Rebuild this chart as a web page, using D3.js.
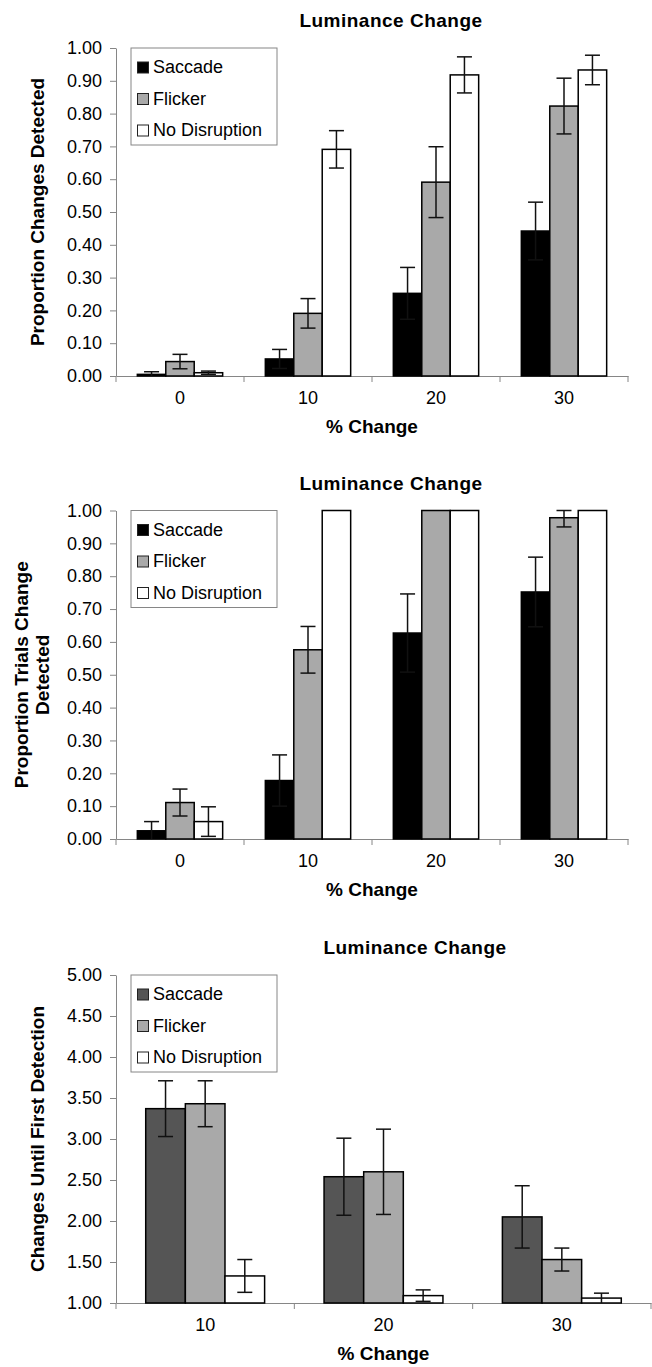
<!DOCTYPE html>
<html>
<head>
<meta charset="utf-8">
<script src="https://cdn.jsdelivr.net/npm/d3@7"></script>
<style>
    body {
        margin: 0;
        background: #fff;
        font-family: "Liberation Sans", Arial, sans-serif;
    }
    svg { display: block; }
    .axis path, .axis line { stroke: #868686; }
    .axis text { font-size: 18px; fill: #000; font-family: "Liberation Sans", Arial, sans-serif; }
</style>
</head>
<body>
<svg id="fig" width="652" height="1367"></svg>
<script>
    const seriesNames = ["Saccade", "Flicker", "No Disruption"];

    // top panel: proportion of changes detected
    const changeCats = ["0", "10", "20", "30"];
    const changesSaccade = [0.005, 0.052, 0.252, 0.442];
    const changesSaccadeErr = [0.008, 0.029, 0.079, 0.088];
    const changesFlicker = [0.044, 0.191, 0.591, 0.823];
    const changesFlickerErr = [0.022, 0.045, 0.108, 0.085];
    const changesNone = [0.010, 0.691, 0.918, 0.933];
    const changesNoneErr = [0.005, 0.057, 0.055, 0.045];

    // middle panel: proportion of trials with a detected change
    const trialsSaccade = [0.025, 0.178, 0.627, 0.752];
    const trialsSaccadeErr = [0.028, 0.078, 0.119, 0.106];
    const trialsFlicker = [0.111, 0.576, 1.00, 0.978];
    const trialsFlickerErr = [0.041, 0.071, 0, 0.028];
    const trialsNone = [0.053, 1.00, 1.00, 1.00];
    const trialsNoneErr = [0.045, 0, 0, 0];

    // bottom panel: changes until first detection
    const firstCats = ["10", "20", "30"];
    const firstSaccade = [3.37, 2.54, 2.05];
    const firstSaccadeErr = [0.34, 0.47, 0.38];
    const firstFlicker = [3.43, 2.60, 1.53];
    const firstFlickerErr = [0.28, 0.52, 0.14];
    const firstNone = [1.33, 1.09, 1.06];
    const firstNoneErr = [0.20, 0.07, 0.06];

    const propTicks = [0, 0.1, 0.2, 0.3, 0.4, 0.5, 0.6, 0.7, 0.8, 0.9, 1.0];
    const firstTicks = [1.0, 1.5, 2.0, 2.5, 3.0, 3.5, 4.0, 4.5, 5.0];

    const svg = d3.select("#fig");

    function buildRows(cats, vals, errs) {
        // one row per category, with the three series
        return cats.map((c, i) => ({
            cat: c,
            bars: seriesNames.map((s, k) => ({ series: s, value: vals[k][i], err: errs[k][i] }))
        }));
    }

    function drawPanel(p) {
        const g = svg.append("g");
        const x = d3.scaleBand().domain(p.cats).range([p.left, p.right]);
        const xs = d3.scaleBand().domain(seriesNames).range([0, x.bandwidth()])
            .paddingInner(0).paddingOuter(0.75);
        const y = d3.scaleLinear().domain(p.domain).range([p.bottom, p.top]);
        const color = d3.scaleOrdinal().domain(seriesNames).range(p.colors);

        // title
        g.append("text")
            .attr("x", p.titleX).attr("y", p.titleY)
            .attr("text-anchor", "middle")
            .style("font-size", "19px").style("font-weight", "bold")
            .style("letter-spacing", "0.5px")
            .text("Luminance Change");

        // y axis
        g.append("g").attr("class", "axis")
            .attr("transform", `translate(${p.left},0)`)
            .call(d3.axisLeft(y).tickValues(p.ticks).tickFormat(d3.format(".2f"))
                .tickSize(6).tickSizeOuter(0).tickPadding(8));

        // x axis: labels in the middle, ticks on the category boundaries
        const xa = g.append("g").attr("class", "axis")
            .attr("transform", `translate(0,${p.bottom})`)
            .call(d3.axisBottom(x).tickSize(0).tickSizeOuter(0).tickPadding(15));
        xa.selectAll(".bound")
            .data(p.cats.map(c => x(c)).concat([p.right]))
            .enter().append("line")
            .attr("x1", d => d).attr("x2", d => d)
            .attr("y1", 0).attr("y2", 6);

        // bars
        const rows = buildRows(p.cats, p.vals, p.errs);
        const groups = g.selectAll(".grp").data(rows).enter().append("g")
            .attr("transform", d => `translate(${x(d.cat)},0)`);
        groups.selectAll("rect").data(d => d.bars).enter().append("rect")
            .attr("x", d => xs(d.series))
            .attr("width", xs.bandwidth())
            .attr("y", d => y(d.value))
            .attr("height", d => y(p.domain[0]) - y(d.value))
            .attr("fill", d => color(d.series))
            .attr("stroke", "#000").attr("stroke-width", 1.5);

        // error bars
        const eb = groups.selectAll(".err").data(d => d.bars.filter(b => b.err > 0))
            .enter().append("g")
            .attr("transform", d => `translate(${xs(d.series) + xs.bandwidth() / 2},0)`)
            .attr("stroke", "#111").attr("stroke-width", 1.5);
        const hi = d => y(Math.min(d.value + d.err, p.domain[1]));
        const lo = d => y(Math.max(d.value - d.err, p.domain[0]));
        eb.append("line").attr("x1", 0).attr("x2", 0).attr("y1", hi).attr("y2", lo);
        eb.append("line").attr("x1", -7.5).attr("x2", 7.5).attr("y1", hi).attr("y2", hi);
        eb.append("line").attr("x1", -7.5).attr("x2", 7.5).attr("y1", lo).attr("y2", lo)
            .attr("display", d => d.value - d.err <= p.domain[0] ? "none" : null);

        // axis titles
        g.append("text")
            .attr("x", (p.left + p.right) / 2).attr("y", p.bottom + 57)
            .attr("text-anchor", "middle")
            .style("font-size", "19px").style("font-weight", "bold")
            .text("% Change");

        const yl = g.append("text")
            .attr("transform", `translate(${p.yLabelX},${(p.top + p.bottom) / 2}) rotate(-90)`)
            .attr("text-anchor", "middle")
            .style("font-size", "19px").style("font-weight", "bold");
        p.yLabel.forEach((line, i) => {
            yl.append("tspan").attr("x", 0).attr("dy", i === 0 ? "0.35em" : "21px").text(line);
        });

        // legend
        const lg = g.append("g").attr("transform", `translate(131,${p.top})`);
        lg.append("rect").attr("width", 146).attr("height", 97)
            .attr("fill", "#fff").attr("stroke", "#868686");
        const item = lg.selectAll(".item").data(seriesNames).enter().append("g")
            .attr("transform", (d, i) => `translate(0,${19 + i * 31.5})`);
        item.append("rect")
            .attr("x", 6.5).attr("y", -5).attr("width", 11).attr("height", 11)
            .attr("fill", d => color(d)).attr("stroke", "#222").attr("stroke-width", 1);
        item.append("text")
            .attr("x", 22).attr("dy", "0.35em")
            .style("font-size", "18px")
            .text(d => d);
    }

    drawPanel({
        cats: changeCats,
        vals: [changesSaccade, changesFlicker, changesNone],
        errs: [changesSaccadeErr, changesFlickerErr, changesNoneErr],
        domain: [0, 1], ticks: propTicks,
        colors: ["#000000", "#a9a9a9", "#ffffff"],
        left: 116, right: 628, top: 48, bottom: 376,
        titleX: 391, titleY: 27,
        yLabelX: 37, yLabel: ["Proportion Changes Detected"]
    });

    drawPanel({
        cats: changeCats,
        vals: [trialsSaccade, trialsFlicker, trialsNone],
        errs: [trialsSaccadeErr, trialsFlickerErr, trialsNoneErr],
        domain: [0, 1], ticks: propTicks,
        colors: ["#000000", "#a9a9a9", "#ffffff"],
        left: 116, right: 628, top: 510.5, bottom: 839,
        titleX: 391, titleY: 490,
        yLabelX: 21, yLabel: ["Proportion Trials Change", "Detected"]
    });

    drawPanel({
        cats: firstCats,
        vals: [firstSaccade, firstFlicker, firstNone],
        errs: [firstSaccadeErr, firstFlickerErr, firstNoneErr],
        domain: [1, 5], ticks: firstTicks,
        colors: ["#555555", "#a9a9a9", "#ffffff"],
        left: 116, right: 651, top: 975, bottom: 1303,
        titleX: 415, titleY: 954,
        yLabelX: 37, yLabel: ["Changes Until First Detection"]
    });
</script>
</body>
</html>
